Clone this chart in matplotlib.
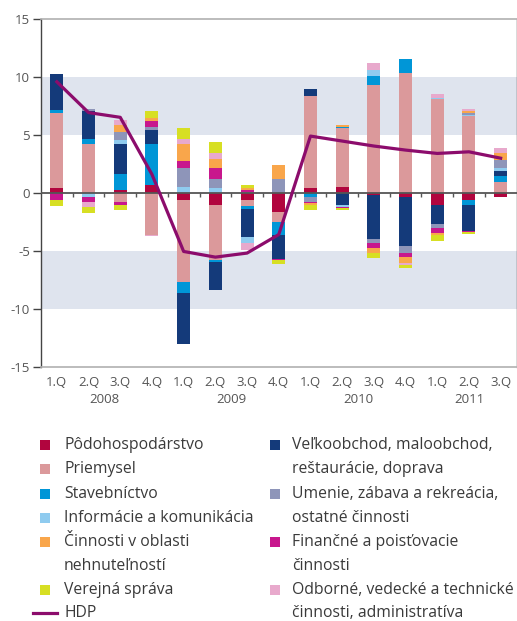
import matplotlib
matplotlib.use("Agg")
import matplotlib.pyplot as plt
import numpy as np
from matplotlib.patches import Rectangle
from matplotlib.lines import Line2D
import matplotlib.transforms as mtransforms

plt.rcParams['font.family'] = ['Open Sans', 'DejaVu Sans']

quarters = ['1.Q', '2.Q', '3.Q', '4.Q', '1.Q', '2.Q', '3.Q', '4.Q',
            '1.Q', '2.Q', '3.Q', '4.Q', '1.Q', '2.Q', '3.Q']
years = ['2008', '2009', '2010', '2011']
year_of_bar = [0, 0, 0, 0, 1, 1, 1, 1, 2, 2, 2, 2, 3, 3, 3]

podohospodarstvo = [0.46, 0.0, 0.29, 0.64, -0.58, -1.01, -0.58, -1.62, 0.46, 0.55, -0.14, -0.32, -1.07, -0.58, -0.38]
priemysel = [6.42, 4.19, -0.75, -3.61, -7.11, -4.77, -0.52, -0.87, 7.89, 5.03, 9.31, 10.35, 8.09, 6.62, 0.98]
stavebnictvo = [0.26, 0.43, 1.30, 3.55, -0.95, -0.17, -0.26, -1.13, -0.38, 0.12, 0.78, 1.21, 0.0, -0.49, 0.52]
velkoobchod = [3.12, 2.43, 2.60, 1.21, -4.42, -2.43, -2.43, -2.08, 0.61, -1.07, -3.82, -4.25, -1.59, -2.20, 0.43]
informacie = [0.0, -0.38, 0.35, 0.0, 0.55, 0.46, -0.55, 0.0, 0.0, -0.17, 0.52, 0.0, 0.09, 0.12, 0.26]
umenie = [0.0, 0.17, 0.69, 0.26, 1.56, 0.78, 0.12, 1.16, -0.38, 0.0, -0.35, -0.61, -0.35, 0.14, 0.69]
financne = [-0.58, -0.43, -0.26, 0.52, 0.61, 0.95, 0.17, -0.09, -0.09, -0.09, -0.43, -0.35, -0.43, -0.09, 0.0]
nehnutelnosti = [0.0, 0.0, 0.61, 0.26, 1.47, 0.78, 0.17, 1.21, -0.23, 0.14, -0.43, -0.52, -0.20, 0.17, 0.61]
odborne = [0.0, -0.43, 0.43, -0.14, 0.49, 0.52, -0.58, 0.0, 0.0, 0.0, 0.61, -0.17, 0.35, 0.17, 0.35]
verejna = [-0.58, -0.46, -0.43, 0.61, 0.90, 0.87, 0.26, -0.35, -0.38, -0.17, -0.43, -0.26, -0.49, -0.17, 0.0]
hdp = [9.6, 6.94, 6.53, 1.6, -5.06, -5.55, -5.2, -3.6, 4.91, 4.48, 4.05, 3.7, 3.41, 3.55, 3.0]

series = [
    ('Pôdohospodárstvo', podohospodarstvo, '#b1053e'),
    ('Priemysel', priemysel, '#db999b'),
    ('Stavebníctvo', stavebnictvo, '#0096d7'),
    ('Veľkoobchod, maloobchod,\nreštaurácie, doprava', velkoobchod, '#143a7a'),
    ('Informácie a komunikácia', informacie, '#8fcbef'),
    ('Umenie, zábava a rekreácia,\nostatné činnosti', umenie, '#8e95b9'),
    ('Finančné a poisťovacie\nčinnosti', financne, '#c8178d'),
    ('Činnosti v oblasti\nnehnuteľností', nehnutelnosti, '#f9a64b'),
    ('Odborné, vedecké a technické\nčinnosti, administratíva', odborne, '#e8a9cc'),
    ('Verejná správa', verejna, '#d7df23'),
]
hdp_color = '#8c0c6c'

fig = plt.figure(figsize=(5.17, 6.21), dpi=100)
ax = fig.add_axes([41/517, 1 - 366.5/621, (516.5 - 41)/517, (366.5 - 19.3)/621])

x = np.arange(len(quarters))
width = 0.41
pos_base = np.zeros(len(x))
neg_base = np.zeros(len(x))
for name, vals, col in series:
    v = np.array(vals)
    pos = np.where(v > 0, v, 0)
    neg = np.where(v < 0, v, 0)
    ax.bar(x, pos, width, bottom=pos_base, color=col, linewidth=0, zorder=2)
    ax.bar(x, neg, width, bottom=neg_base, color=col, linewidth=0, zorder=2)
    pos_base += pos
    neg_base += neg

ax.plot(x, hdp, color=hdp_color, lw=2.3, zorder=4, solid_joinstyle='round')

# background bands
ax.axhspan(5, 10, color='#dfe4ee', zorder=0, lw=0)
ax.axhspan(-10, -5, color='#dfe4ee', zorder=0, lw=0)

# zero line with small separators
ax.axhline(0, color='#555555', lw=1.3, zorder=3)
ax.vlines(x[:-1] + 0.5, -0.38, 0, color='#555555', lw=1.0, zorder=3)

ax.set_xlim(-0.5, len(x) - 0.5)
ax.set_ylim(-15, 15)
ax.set_yticks(np.arange(-15, 16, 5))
ax.set_yticklabels([str(v) for v in range(-15, 16, 5)])
ax.tick_params(axis='y', direction='out', length=6, width=1, color='#444444',
               labelsize=9.5, labelcolor='#555555', pad=2)
ax.set_xticks(x)
ax.set_xticklabels(quarters)
ax.tick_params(axis='x', length=0, labelsize=9.5, labelcolor='#555555', pad=7)

for sp in ['top', 'bottom']:
    ax.spines[sp].set_color('#b0b0b0')
    ax.spines[sp].set_linewidth(1.2)
ax.spines['left'].set_color('#444444')
ax.spines['right'].set_color('#444444')
ax.spines['left'].set_linewidth(1.0)
ax.spines['right'].set_linewidth(1.0)

trans = mtransforms.blended_transform_factory(ax.transData, ax.transAxes)
for yi, yr in enumerate(years):
    idx = [i for i, y in enumerate(year_of_bar) if y == yi]
    ax.text(np.mean(x[idx]), -0.095, yr, transform=trans, ha='center', va='center',
            fontsize=9.5, color='#555555')

# legend (manual)
text_color = '#3a3a3a'
leg_fs = 11.3
row_y = [445, 469, 493.5, 518, 542, 566, 590, 613]

def fy(py):
    return 1 - py / 621

left_items = [0, 1, 2, 4, 7, 9]
right_items = [3, 5, 6, 8]

def place(items, mx, tx):
    r = 0
    for i in items:
        name, _, col = series[i]
        fig.patches.append(Rectangle((mx / 517, fy(row_y[r] + 5)), 10 / 517, 10 / 621,
                                     transform=fig.transFigure, color=col, lw=0))
        lines = name.split('\n')
        for k, ln in enumerate(lines):
            fig.text(tx / 517, fy(row_y[r + k]), ln, fontsize=leg_fs, color=text_color,
                     ha='left', va='center')
        r += len(lines)
    return r

r = place(left_items, 40, 64)
fig.lines.append(Line2D([33 / 517, 57 / 517], [fy(row_y[r]), fy(row_y[r])],
                        transform=fig.transFigure, color=hdp_color, lw=2.3))
fig.text(64 / 517, fy(row_y[r]), 'HDP', fontsize=leg_fs, color=text_color, ha='left', va='center')
place(right_items, 270, 292)

fig.savefig('out.png', dpi=100)
